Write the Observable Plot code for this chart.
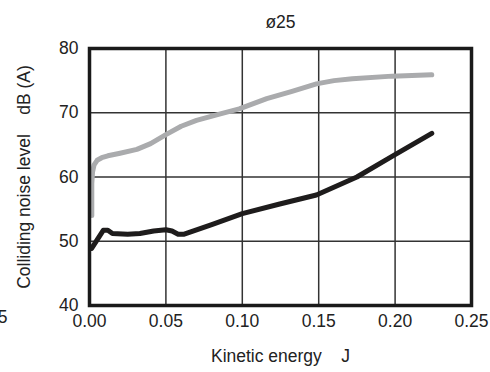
<!DOCTYPE html>
<html><head><meta charset="utf-8">
<script src="https://cdn.jsdelivr.net/npm/d3@7"></script>
<script src="https://cdn.jsdelivr.net/npm/@observablehq/plot@0.6"></script>
<style>body{margin:0;background:#fff;} svg{font-family:"Liberation Sans",Arial,sans-serif;}</style>
</head><body><div id="chart"></div>
<script>
const title = "ø25";
const xLabel = "Kinetic energy    J";
const yLabel = "Colliding noise level    dB (A)";
const xTicks = [0, 0.05, 0.10, 0.15, 0.20, 0.25];
const yTicks = [40, 50, 60, 70, 80];

const grayX = [0.0015, 0.0015, 0.002, 0.003, 0.005, 0.008, 0.012, 0.020, 0.031, 0.040, 0.050, 0.060, 0.070, 0.085, 0.098, 0.116, 0.132, 0.1485, 0.160, 0.172, 0.198, 0.224];
const grayY = [54.0, 59.0, 60.8, 61.9, 62.6, 63.0, 63.3, 63.7, 64.3, 65.2, 66.6, 67.9, 68.8, 69.8, 70.6, 72.2, 73.3, 74.5, 75.0, 75.3, 75.7, 75.9];

const blackX = [0.0014, 0.009, 0.012, 0.015, 0.025, 0.033, 0.042, 0.050, 0.054, 0.058, 0.062, 0.080, 0.100, 0.1245, 0.1485, 0.175, 0.198, 0.224];
const blackY = [48.9, 51.7, 51.7, 51.2, 51.1, 51.2, 51.6, 51.8, 51.6, 51.1, 51.1, 52.6, 54.3, 55.8, 57.2, 60.0, 63.2, 66.8];

const gray = grayX.map((x, i) => ({x, y: grayY[i]}));
const black = blackX.map((x, i) => ({x, y: blackY[i]}));

const chart = Plot.plot({
  width: 490, height: 372,
  marginLeft: 89, marginRight: 19, marginTop: 48, marginBottom: 67,
  style: {fontSize: "17.5px", fontFamily: "'Liberation Sans', Arial, sans-serif", color: "#222"},
  x: {domain: [0, 0.25], ticks: xTicks, tickFormat: d3.format(".2f")},
  y: {domain: [40, 80], ticks: yTicks},
  marks: [
    Plot.gridX(xTicks.slice(1, -1), {stroke: "#333", strokeOpacity: 1, strokeWidth: 1.5}),
    Plot.gridY(yTicks.slice(1, -1), {stroke: "#333", strokeOpacity: 1, strokeWidth: 1.5}),
    Plot.line(gray, {x: "x", y: "y", stroke: "#aaabad", strokeWidth: 5, curve: "linear", strokeLinejoin: "round"}),
    Plot.line(black, {x: "x", y: "y", stroke: "#1e1c1c", strokeWidth: 5, curve: "linear", strokeLinejoin: "round"}),
    Plot.frame({stroke: "#1a1a1a", strokeWidth: 3.5}),
    Plot.axisX({ticks: xTicks, tickSize: 0, tickPadding: 9, tickFormat: d3.format(".2f"), label: xLabel, labelAnchor: "center", labelArrow: "none", labelOffset: 56}),
    Plot.axisY({ticks: yTicks, tickSize: 0, tickPadding: 11, label: yLabel, labelAnchor: "center", labelArrow: "none", labelOffset: 72}),
    Plot.text([title], {frameAnchor: "top", dy: -33, dx: 0, fontSize: 17.5, fill: "#222"}),
    Plot.text(["0.25"], {frameAnchor: "bottom-left", dx: -82, dy: 17, textAnchor: "end", fontSize: 17.5, fill: "#222"})
  ]
});
document.getElementById("chart").appendChild(chart);
</script>
</body></html>
